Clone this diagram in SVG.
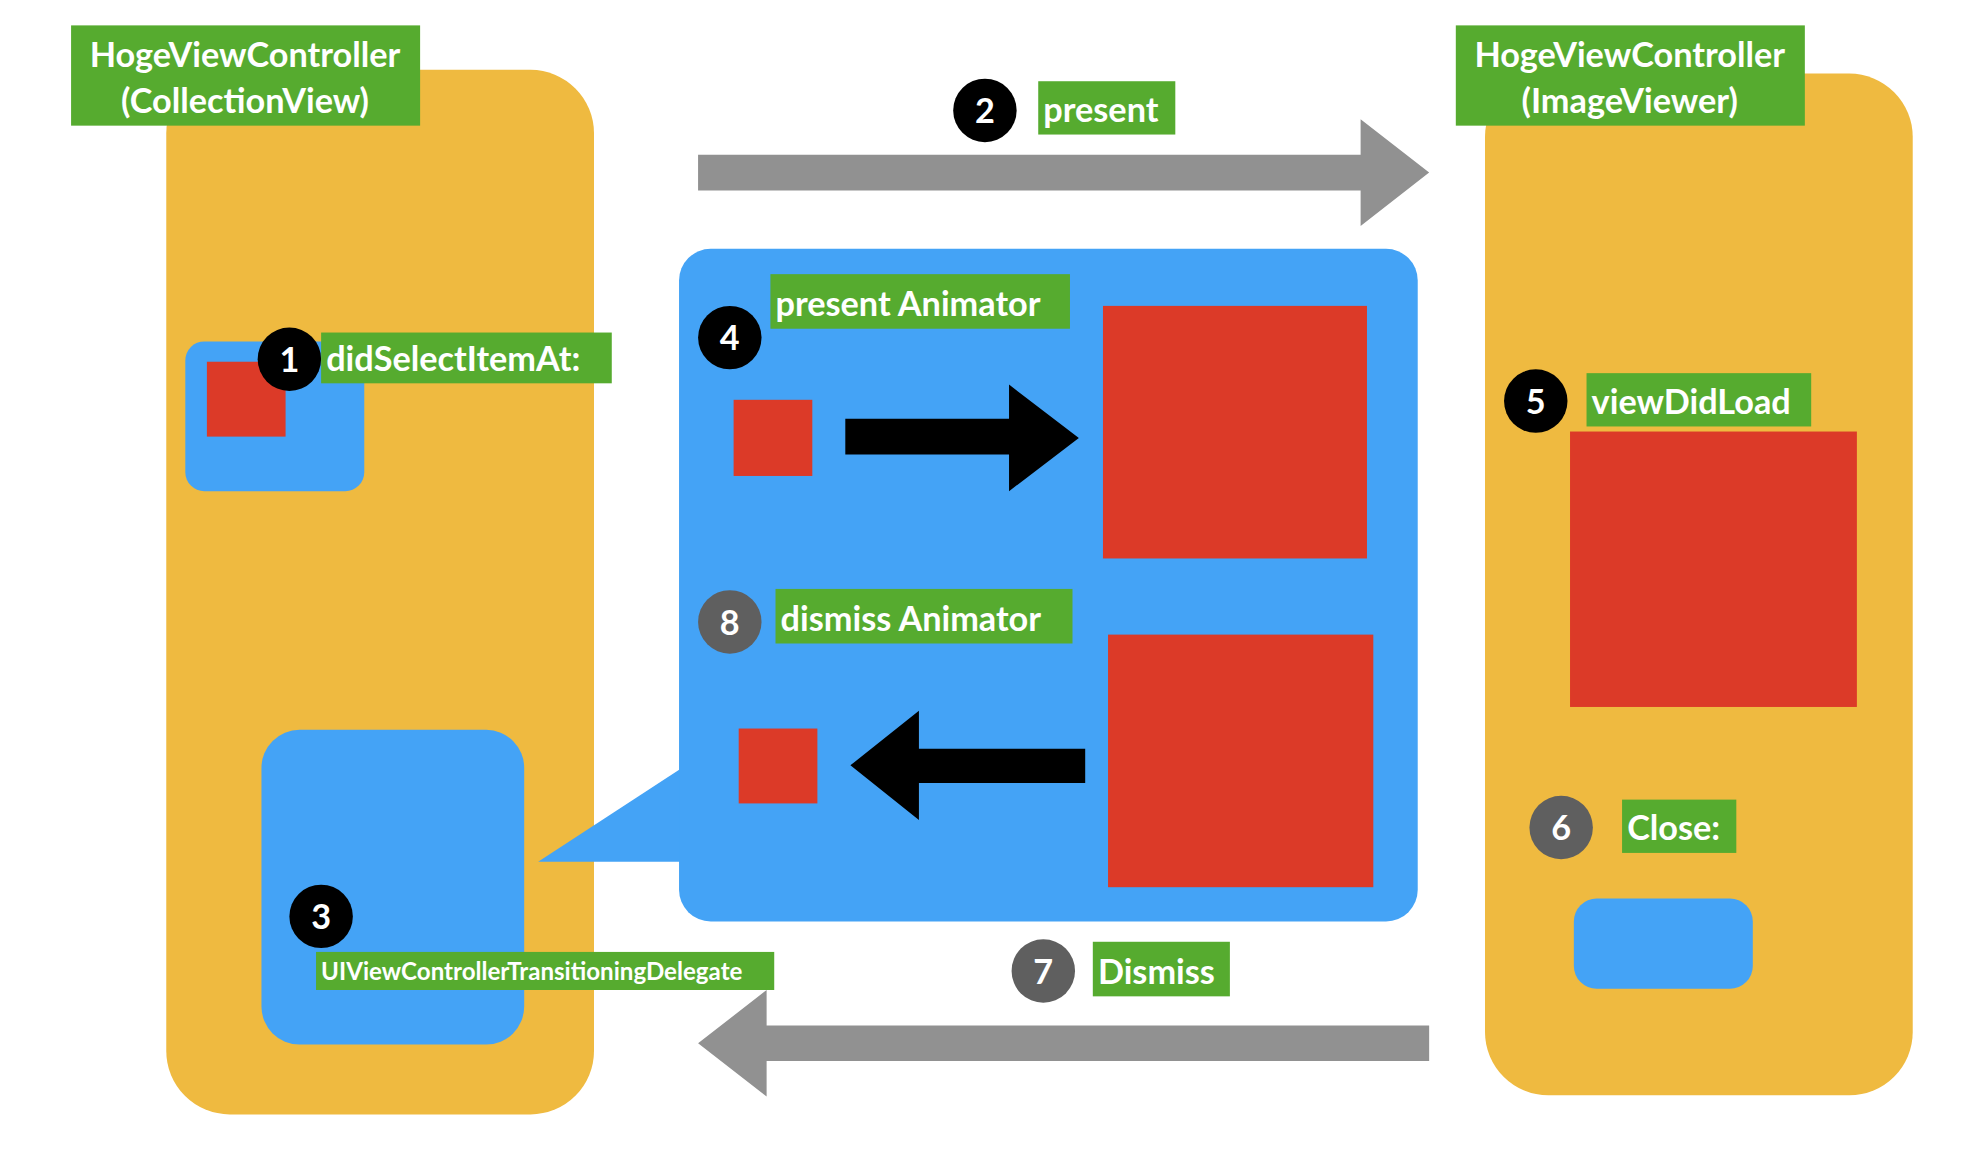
<svg xmlns="http://www.w3.org/2000/svg" width="1980" height="1166" viewBox="0 0 1980 1166">
<style>
.or{fill:#EFBA40}.bl{fill:#44A3F6}.rd{fill:#DC3A28}.gl{fill:#56AB2F}
.t{font-family:Lato,"Open Sans",sans-serif;font-weight:bold;fill:#fff;font-size:27px}
.n{font-family:Lato,"Open Sans",sans-serif;font-weight:bold;fill:#fff;font-size:27px;text-anchor:middle}
</style>
<rect width="1980" height="1166" fill="#fff"/>
<g transform="scale(1.26923)">
<g id="left-vc">
<rect class="or" x="131" y="55" width="337" height="823" rx="50"/>
<rect class="gl" x="56" y="20" width="275" height="79"/>
<text class="n" x="193" y="53">HogeViewController</text>
<text class="n" x="193" y="89">(CollectionView)</text>
</g>
<g id="right-vc">
<rect class="or" x="1170" y="58" width="337" height="805" rx="50"/>
<rect class="gl" x="1147" y="20" width="275" height="79"/>
<text class="n" x="1284" y="53">HogeViewController</text>
<text class="n" x="1284" y="89">(ImageViewer)</text>
</g>
<g id="cell">
<rect class="bl" x="146" y="269" width="141" height="118" rx="15"/>
<rect class="rd" x="163" y="285" width="62" height="59"/>
<circle cx="228" cy="283" r="25"/><text class="n" x="228" y="293">1</text>
<rect class="gl" x="253" y="262" width="229" height="40"/>
<text class="t" x="257" y="292">didSelectItemAt:</text>
</g>
<g id="delegate">
<rect class="bl" x="206" y="575" width="207" height="248" rx="30"/>
<circle cx="253" cy="722" r="25"/><text class="n" x="253" y="732">3</text>
<rect class="gl" x="249" y="750" width="361" height="30"/>
<text class="t" x="253" y="772" style="font-size:19px">UIViewControllerTransitioningDelegate</text>
</g>
<g id="animators">
<polygon class="bl" points="545,600 424,679 545,679"/>
<rect class="bl" x="535" y="196" width="582" height="530" rx="25"/>
<rect class="gl" x="607" y="216" width="236" height="43"/>
<text class="t" x="611" y="249">present Animator</text>
<circle cx="575" cy="266" r="25"/><text class="n" x="575" y="276">4</text>
<rect class="rd" x="578" y="315" width="62" height="60"/>
<rect class="rd" x="869" y="241" width="208" height="199"/>
<polygon points="666,330 795,330 795,303 850,345 795,387 795,358 666,358"/>
<rect class="gl" x="611" y="464" width="234" height="43"/>
<text class="t" x="615" y="497">dismiss Animator</text>
<circle cx="575" cy="490" r="25" fill="#5F5F5F"/><text class="n" x="575" y="500">8</text>
<rect class="rd" x="582" y="574" width="62" height="59"/>
<rect class="rd" x="873" y="500" width="209" height="199"/>
<polygon points="855,590 724,590 724,560 670,603 724,646 724,617 855,617"/>
</g>
<g id="image-view">
<circle cx="1210" cy="316" r="25"/><text class="n" x="1210" y="326">5</text>
<rect class="gl" x="1250" y="294" width="177" height="42"/>
<text class="t" x="1254" y="326">viewDidLoad</text>
<rect class="rd" x="1237" y="340" width="226" height="217"/>
<circle cx="1230" cy="652" r="25" fill="#5F5F5F"/><text class="n" x="1230" y="662">6</text>
<rect class="gl" x="1278" y="630" width="90" height="42"/>
<text class="t" x="1282" y="662">Close:</text>
<rect class="bl" x="1240" y="708" width="141" height="71" rx="18"/>
</g>
<g id="connectors">
<polygon fill="#919191" points="550,122 1072,122 1072,94 1126,136 1072,178 1072,150 550,150"/>
<circle cx="776" cy="87" r="25"/><text class="n" x="776" y="97">2</text>
<rect class="gl" x="818" y="64" width="108" height="42"/>
<text class="t" x="822" y="96">present</text>
<polygon fill="#919191" points="1126,808 604,808 604,780 550,822 604,864 604,836 1126,836"/>
<circle cx="822" cy="765" r="25" fill="#5F5F5F"/><text class="n" x="822" y="775">7</text>
<rect class="gl" x="861" y="742" width="108" height="43"/>
<text class="t" x="865" y="775">Dismiss</text>
</g>
</g>
</svg>
